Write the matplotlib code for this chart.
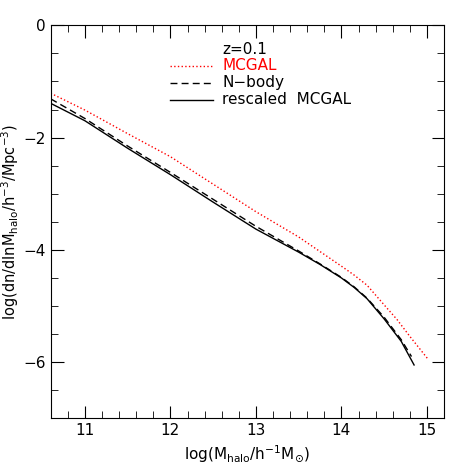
import matplotlib
matplotlib.use("Agg")
import matplotlib.pyplot as plt
from matplotlib.ticker import MultipleLocator

x_nbody = [10.6, 11.0, 11.5, 12.0, 12.5, 13.0, 13.5, 13.75, 14.0, 14.15, 14.3, 14.5, 14.7, 14.82]
y_nbody = [-1.31, -1.66, -2.15, -2.62, -3.10, -3.58, -4.02, -4.25, -4.49, -4.66, -4.86, -5.20, -5.60, -5.90]
x_resc = [10.6, 11.0, 11.5, 12.0, 12.5, 13.0, 13.5, 13.75, 14.0, 14.15, 14.3, 14.5, 14.7, 14.85]
y_resc = [-1.39, -1.70, -2.19, -2.66, -3.15, -3.63, -4.04, -4.26, -4.50, -4.67, -4.87, -5.23, -5.63, -6.05]
x_mcgal = [10.6, 11.0, 11.5, 12.0, 12.5, 13.0, 13.5, 14.0, 14.15, 14.3, 14.5, 14.65, 14.8, 15.02]
y_mcgal = [-1.21, -1.51, -1.93, -2.34, -2.83, -3.32, -3.77, -4.29, -4.45, -4.63, -4.98, -5.24, -5.54, -5.96]

fig = plt.figure(figsize=(4.69, 4.69), dpi=100)
ax = fig.add_axes([50.7/469, 1-418.3/469, (444-50.7)/469, (418.3-25.3)/469])
ax.plot(x_mcgal, y_mcgal, color='red', ls=':', lw=1)
ax.plot(x_nbody, y_nbody, color='black', ls=(0, (5, 3)), lw=1)
ax.plot(x_resc, y_resc, color='black', ls='-', lw=1)
ax.set_xlim(10.6, 15.2)
ax.set_ylim(-7, 0)
ax.xaxis.set_major_locator(MultipleLocator(1))
ax.xaxis.set_minor_locator(MultipleLocator(0.2))
ax.yaxis.set_major_locator(MultipleLocator(2))
ax.yaxis.set_minor_locator(MultipleLocator(0.5))
ax.tick_params(which='both', direction='in', top=True, right=True, labelsize=11)
ax.tick_params(which='major', length=9)
ax.tick_params(which='minor', length=5)
ax.set_xlabel(r'log(M$_{\mathrm{halo}}$/h$^{-1}$M$_{\odot}$)', fontsize=11)
ax.set_ylabel(r'log(dn/dlnM$_{\mathrm{halo}}$/h$^{-3}$/Mpc$^{-3}$)', fontsize=10.5, labelpad=2)

# legend drawn manually
def tx(px): return (px - 50.7) / (444 - 50.7)
def ty(py): return (418.3 - py) / (418.3 - 25.3)
ax.text(tx(222), ty(49), 'z=0.1', transform=ax.transAxes, fontsize=11, va='center')
entries = [('MCGAL', 'red', ':', 66), ('N\u2212body', 'black', (0, (5, 3)), 83), ('rescaled  MCGAL', 'black', '-', 100)]
for lab, col, ls, py in entries:
    ax.plot([tx(170), tx(213)], [ty(py), ty(py)], transform=ax.transAxes, color=col, ls=ls, lw=1)
    ax.text(tx(222), ty(py), lab, transform=ax.transAxes, fontsize=11, va='center', color=col)

fig.savefig('out.png', dpi=100)
